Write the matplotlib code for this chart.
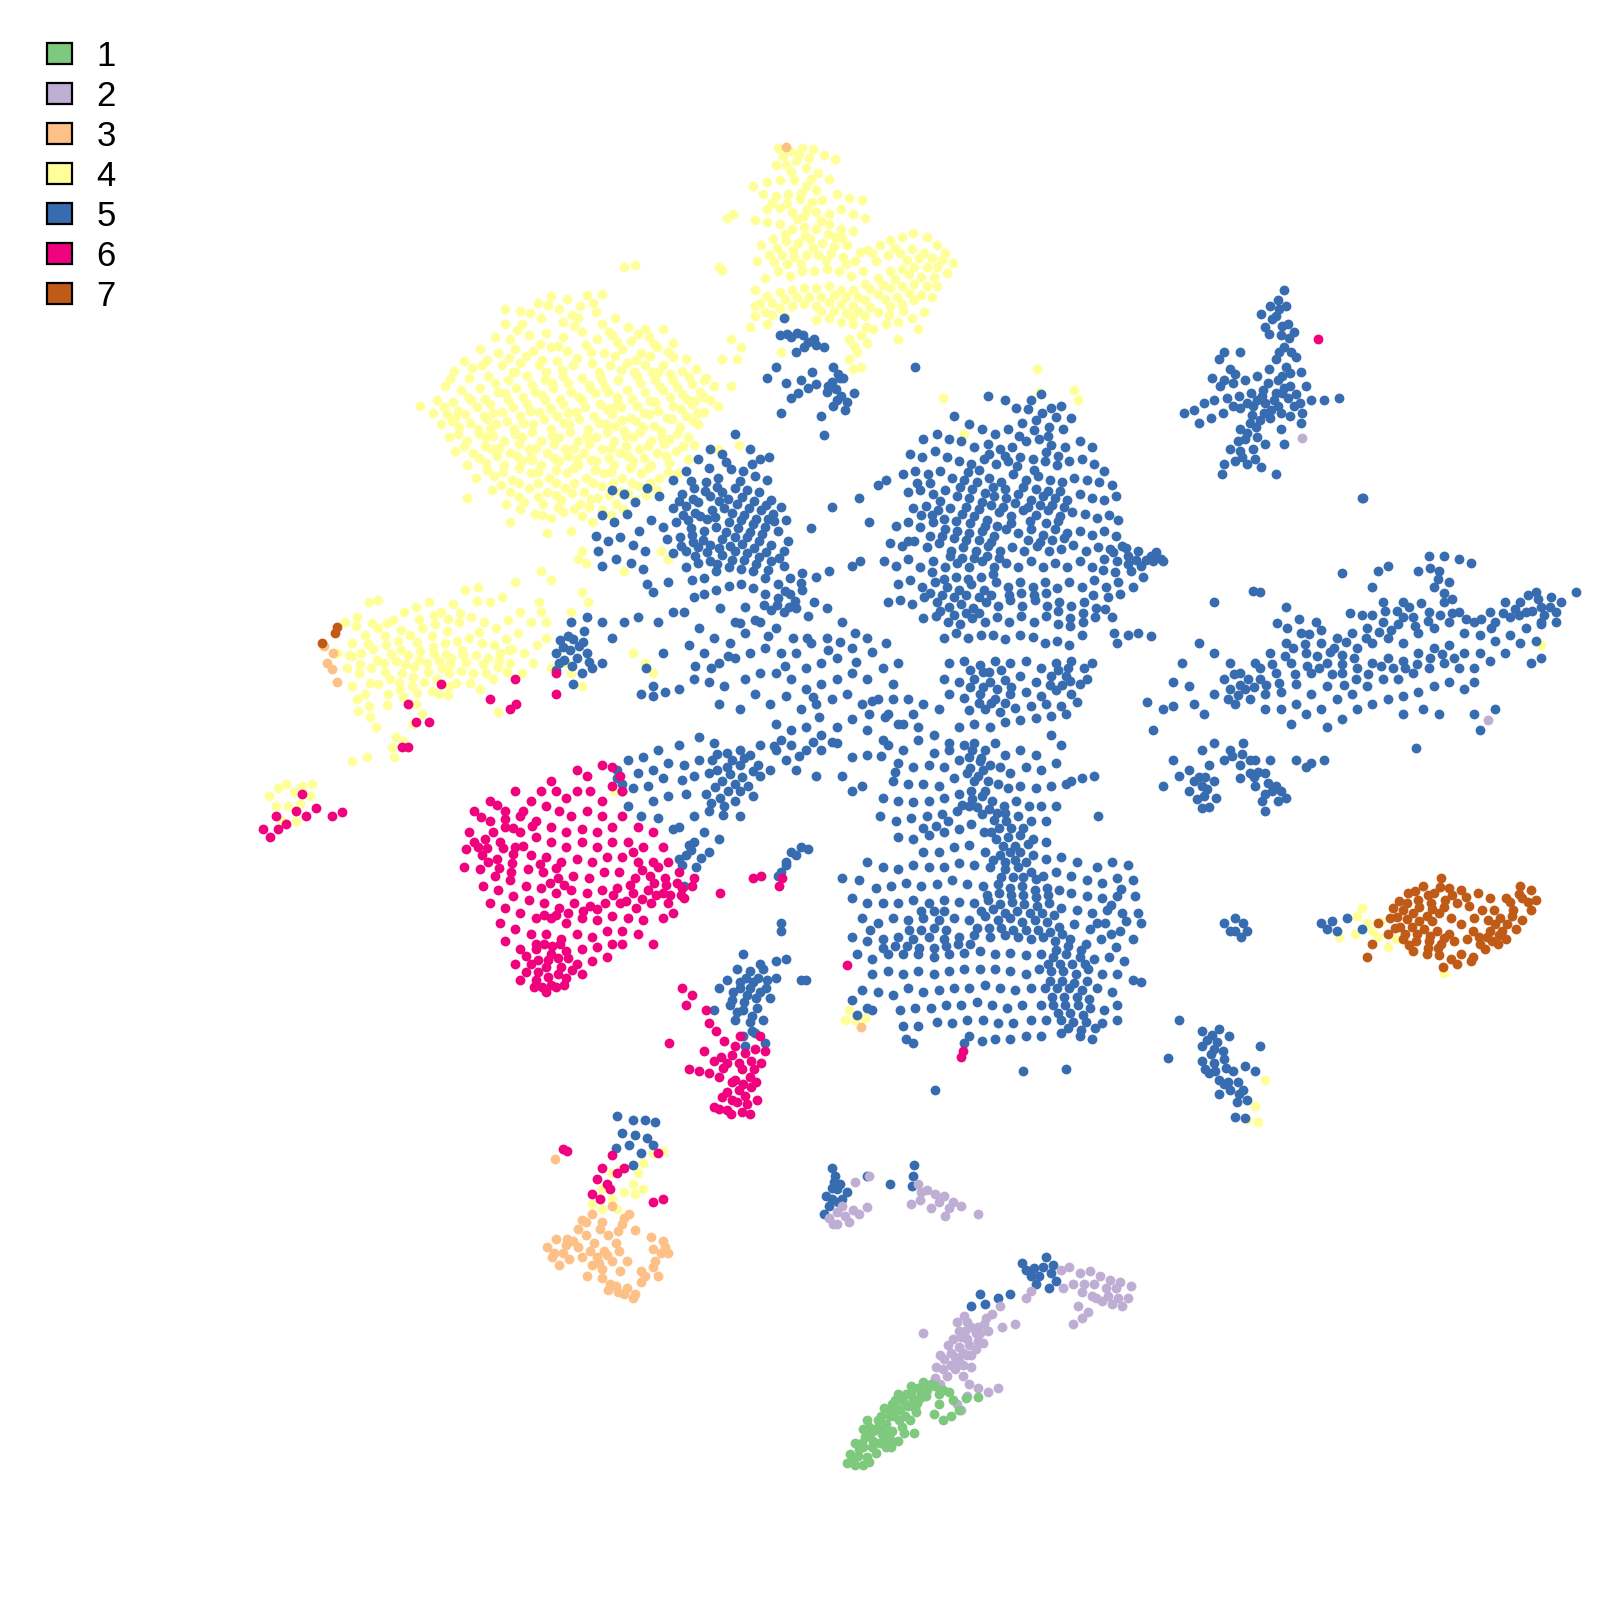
import numpy as np
import matplotlib
matplotlib.use("Agg")
import matplotlib.pyplot as plt
from matplotlib.patches import Patch

plt.rcParams['font.family'] = ['Liberation Sans', 'DejaVu Sans']

labels = ["1", "2", "3", "4", "5", "6", "7"]
colors = ["#7FC97F", "#BEAED4", "#FDC086", "#FFFF99", "#386CB0", "#F0027F", "#BF5B17"]

# cluster values, flat x,y,x,y...
c1 = [830,1434,838,1436,846,1436,852,1433,833,1425,842,1420,850,1428,858,1424,868,1418,838,1414,848,1408,856,1412,
      864,1405,872,1410,880,1412,852,1398,860,1392,868,1396,876,1388,884,1398,892,1392,866,1380,874,1376,882,1382,
      890,1378,898,1384,880,1366,888,1366,895,1372,903,1366,893,1358,900,1360,908,1362,916,1358,924,1362,930,1364,
      905,1354,912,1356,886,1404,873,1418,862,1414,897,1380,920,1376,934,1372,947,1370,958,1369,915,1386,924,1392,
      932,1388,940,1382,902,1370,872,1388,856,1402,846,1418,836,1428,896,1404,
      836,1431,841,1427,845,1414,853,1404,859,1399,863,1388,871,1382,877,1372,885,1373,893,1366,899,1375,881,1392,874,1402,866,1410,
      855,1418,878,1380,887,1388,869,1404,907,1368,920,1366,862,1400,850,1392,846,1400]
c2 = [917,1340,925,1332,932,1326,940,1320,948,1312,956,1306,964,1298,972,1288,980,1280,916,1350,924,1342,932,1338,
      940,1334,948,1328,956,1322,963,1316,938,1296,946,1304,934,1312,945,1290,952,1300,968,1304,982,1300,995,1298,
      952,1340,944,1348,950,1356,958,1360,968,1364,978,1360,938,1376,942,1382,948,1368,1005,1272,1010,1265,1040,1245,
      1048,1242,1058,1248,1068,1246,1078,1250,1088,1254,1098,1256,1108,1260,1105,1272,1100,1280,1090,1278,1080,1275,
      1070,1270,1060,1266,1052,1258,1042,1262,1056,1280,1060,1292,1052,1298,1066,1286,1074,1272,1084,1262,820,1188,
      828,1192,836,1186,820,1200,812,1194,850,1183,842,1190,852,1152,838,1158,900,1160,908,1166,916,1170,925,1172,
      934,1178,942,1182,958,1190,893,1180,902,1176,912,1184,926,1192,1276,429,1458,706,905,1306,
      921,1328,929,1318,936,1330,942,1310,950,1318,958,1314,944,1326,936,1342,928,1348,921,1356,944,1338,952,1328,960,1306,
      948,1296,940,1304,966,1292,958,1300,1062,1258,1072,1258,1094,1262,1086,1270,1096,1272,825,1182,832,1198,816,1200,903,1168,920,1178,930,1184]
c3 = [536,1222,545,1214,552,1228,548,1240,558,1234,566,1222,574,1210,582,1218,592,1226,600,1236,590,1244,580,1240,
      570,1232,575,1250,590,1252,604,1260,612,1268,620,1272,596,1264,608,1246,628,1246,640,1224,650,1216,655,1228,
      642,1236,645,1250,638,1212,570,1196,580,1190,590,1198,610,1200,616,1190,622,1205,604,1218,596,1210,600,1182,
      770,144,544,1136,844,1006,320,650,326,640,318,633,330,668,325,656,556,1214,543,1228,
      541,1232,555,1220,562,1216,585,1232,578,1226,587,1238,595,1230,598,1258,606,1266,614,1262,622,1268,640,1242,648,1228,
      652,1222,566,1204,574,1198,588,1204,612,1194,606,1206,628,1256,632,1250,614,1236,607,1226]
c4_main = [540,290,556,293,575,289,590,288,568,300,548,303,527,297,510,305,584,306,603,312,495,318,512,318,530,312,552,316,566,312,590,318,615,320,632,322,
      485,330,500,332,518,328,535,326,552,330,570,325,585,332,600,328,618,334,636,330,650,322,660,336,
      470,342,488,346,505,342,522,344,540,340,556,344,574,338,592,346,610,342,628,346,644,340,660,350,672,352,
      455,354,472,358,492,358,510,356,528,358,546,354,562,358,580,356,598,358,614,356,632,358,650,358,668,364,682,362,
      445,364,460,370,478,368,498,372,516,368,534,372,552,368,570,370,588,368,606,372,624,368,642,372,660,372,678,376,690,372,
      436,378,452,382,470,380,488,384,506,380,524,384,542,380,560,384,578,380,596,384,614,382,632,384,650,382,668,386,686,384,
      428,392,444,394,462,392,480,396,498,392,516,396,534,392,552,396,570,392,588,396,606,394,624,398,642,394,660,398,678,396,696,392,
      424,405,438,406,456,406,474,408,492,404,510,408,528,404,546,408,564,404,582,408,600,406,618,410,636,406,654,410,672,408,690,404,704,398,
      432,416,450,418,468,420,486,416,504,420,522,416,540,420,558,416,576,420,594,416,612,422,630,418,648,422,666,418,684,416,
      440,428,458,432,476,428,494,432,512,428,530,432,548,428,566,432,584,428,602,432,620,428,638,432,656,430,674,428,
      446,442,464,444,482,440,500,444,518,440,536,444,554,440,572,444,590,440,608,444,626,440,644,444,662,442,680,436,
      458,456,476,454,494,456,512,452,530,456,548,452,566,456,584,452,602,456,620,452,638,456,656,454,674,450,
      466,468,484,466,502,470,520,464,538,468,556,464,574,468,592,464,610,468,628,464,646,468,664,464,
      482,480,500,482,518,478,536,482,554,478,572,482,590,476,608,482,626,476,644,480,
      458,488,496,494,514,492,532,494,550,490,568,494,586,488,604,494,622,490,
      524,504,540,508,552,502,570,506,590,500,500,512,536,522,560,520,580,512,
      412,398,446,410,505,365,535,365,590,372,645,365,600,400,540,400,480,420,520,448,565,450,610,412,
      612,262,622,260,705,262,712,214,716,332,726,340,708,352,722,352,692,370,700,378,716,378,704,440,724,436,
      570,540,574,552,566,548,530,560,540,568,528,590,576,590,570,580,560,600,535,610,612,560,648,540,655,548]
c4_main2 = [495,303,519,307,537,299,561,309,581,297,597,325,625,327,641,337,507,323,529,337,547,339,563,319,579,345,605,335,623,353,637,349,655,345,
      477,353,499,351,515,349,531,353,551,363,565,351,587,365,603,349,621,365,639,365,657,367,675,369,463,361,485,375,503,365,521,377,541,375,
      557,375,577,377,593,379,609,363,627,375,647,379,663,379,681,393,441,371,459,389,475,391,495,385,513,389,531,387,549,391,567,389,583,385,
      605,389,619,391,637,393,657,389,673,391,689,389,435,399,449,403,467,399,483,405,503,399,519,403,539,401,557,405,573,399,595,401,609,399,
      631,405,645,403,667,401,683,405,443,413,461,415,477,411,497,413,513,415,533,411,553,415,567,411,587,415,603,417,623,413,641,417,659,411,
      679,413,449,425,469,425,483,427,505,425,521,423,541,427,559,423,575,427,595,423,613,427,627,423,649,429,663,425,455,437,475,437,489,439,
      509,435,525,439,543,435,563,439,577,435,599,439,613,437,635,437,651,435,669,437,469,449,487,447,507,447,521,451,543,449,557,447,579,451,
      597,449,615,447,631,449,653,447,477,461,493,463,509,459,527,463,545,461,563,459,583,461,599,463,617,459,635,459,655,463,491,475,509,473,
      527,473,545,473,563,473,581,473,601,473,619,473,637,473,509,487,527,487,545,485,561,483,579,489,597,485,615,483,633,485,510,499,531,505,
      547,497,563,499,577,497,599,505,611,499]
c4_top = [762,145,774,148,786,145,797,146,808,152,818,156,780,158,770,162,760,162,790,165,802,170,812,175,752,178,
      764,176,778,176,790,182,800,186,738,182,748,190,760,192,772,190,784,195,796,198,806,196,820,190,832,194,845,196,
      752,205,764,204,776,208,788,212,800,208,812,210,824,205,836,210,848,214,740,216,752,218,764,220,776,224,788,222,
      800,224,812,220,824,224,836,226,758,234,770,236,782,238,794,234,806,238,818,232,830,240,746,240,742,256,754,250,
      766,250,778,252,790,250,802,250,814,248,826,252,838,256,850,245,862,240,872,235,884,232,895,228,908,232,918,240,
      926,248,934,258,928,268,918,262,906,248,894,244,882,248,870,250,858,256,846,266,834,270,822,266,810,264,798,266,
      786,266,774,270,762,266,750,272,740,284,752,290,764,286,776,284,788,282,800,282,812,280,824,284,836,284,848,278,
      860,272,872,266,884,264,896,262,908,262,918,280,908,280,896,278,884,280,872,282,860,288,848,294,836,300,824,298,
      812,296,800,300,788,298,776,300,764,302,750,306,740,310,752,318,800,314,812,312,824,316,836,318,848,310,860,306,
      872,300,884,298,896,294,906,306,894,312,880,316,868,318,856,322,844,328,832,332,840,345,832,352,844,360,836,362,
      900,322,880,332,850,336,740,300,735,320,718,210,708,265,765,345,790,338,1016,362,1053,382,1056,392,1018,384,924,390,945,425,
      767,153,783,151,793,155,775,169,795,175,785,189,757,199,771,199,791,205,805,217,781,215,769,229,789,231,811,229,825,233,
      761,243,777,245,797,243,817,241,759,257,771,259,785,259,809,255,829,259,843,247,855,248,877,243,889,255,901,253,913,253,
      923,255,915,271,903,271,891,269,877,273,865,279,853,283,841,291,829,291,817,289,805,291,793,291,781,291,769,293,757,297,
      745,297,757,309,769,311,805,305,817,305,829,307,841,305,853,301,867,293,879,291,891,287,903,289,913,291,835,311,
      871,309,885,305,849,320,837,339]
c4_misc = [545,640,555,650,560,660,570,672,540,655,620,640,632,650,640,660,338,610,350,605,362,590,370,588,345,630,358,622,370,615,385,608,396,600,
      408,595,420,590,432,600,444,592,456,578,468,575,480,590,492,585,505,570,330,640,342,642,354,640,366,636,378,632,390,628,402,622,414,615,426,612,
      438,618,450,610,462,605,474,610,486,615,498,608,510,600,340,655,352,660,364,655,376,650,388,648,400,642,412,638,424,634,436,630,448,628,460,625,
      472,630,484,632,496,626,508,620,520,610,530,600,345,672,358,680,370,670,382,665,394,660,406,654,418,650,430,648,442,645,454,642,466,642,478,645,
      490,640,502,636,514,640,526,632,350,685,362,692,380,680,392,676,404,672,416,668,428,665,440,660,452,658,464,660,476,660,488,654,500,650,512,660,
      522,650,535,625,505,690,488,698,470,675,430,680,440,672,408,690,414,700,405,710,388,722,384,732,386,742,395,726,368,712,345,746,360,742,
      264,780,272,772,280,768,288,776,296,770,304,780,270,790,282,790,294,788,306,768,276,805,290,805,1240,1058,1230,1084,1233,1100,1222,1098,1415,954,
      1510,632,1340,905,1352,904,1345,912,1330,898,1335,890,1328,915,1360,928,1368,920,1350,918,1312,918,600,1150,610,1145,620,1160,630,1140,640,1130,
      650,1128,625,1150,590,1165,600,1175,612,1168,622,1170,630,1165,580,1180,590,1185,605,1185,828,1000,838,1000,848,998,832,990,875,975,602,775,
      349,613,365,611,379,611,393,617,411,607,425,603,439,607,451,601,467,589,345,643,361,631,377,623,393,637,409,629,423,623,437,641,453,637,469,619,
      353,651,369,647,383,641,397,651,411,647,425,641,441,651,457,649,473,651,489,647,499,637,363,669,377,659,391,669,405,663,419,659,433,655,447,669,
      461,669,483,665,497,659,379,691,395,683,409,679,423,677,439,681,363,703,351,697]
c5_a = [600,480,612,484,622,492,634,478,646,486,660,470,672,462,684,450,696,440,708,445,720,425,735,440,745,450,754,448,
      668,484,680,478,692,472,704,468,716,460,728,462,740,466,752,470,660,498,672,496,684,492,696,486,708,482,720,478,732,480,744,482,756,490,
      590,505,602,512,614,504,626,520,638,510,650,516,662,512,674,510,686,506,698,500,710,498,722,494,734,498,746,500,758,504,770,510,
      584,525,596,530,608,526,620,534,632,540,654,528,666,526,678,524,690,520,702,516,714,512,726,510,738,514,750,516,762,520,772,530,
      604,548,618,552,630,558,660,542,672,540,684,536,696,534,708,528,720,526,732,526,744,530,756,534,768,540,
      586,540,590,555,634,572,672,556,684,552,696,550,708,544,720,540,732,542,744,546,756,550,768,555,
      678,568,690,566,702,560,714,556,726,558,738,560,750,566,762,572,774,566,786,562,
      690,582,702,578,714,574,726,572,738,576,750,582,762,586,774,582,786,578,798,590,810,596,800,565,812,560,
      756,598,768,600,780,596,792,604,740,608,720,610,706,596,730,595,
      677,471,695,459,711,453,725,471,737,455,665,491,679,489,691,481,703,477,713,489,727,487,739,491,751,495,669,505,681,503,693,509,705,491,
      717,503,729,505,741,509,753,509,765,497,677,517,689,529,701,507,711,521,723,517,735,521,747,523,759,511,667,535,679,531,693,541,705,537,
      715,535,727,533,739,537,751,541,763,547,681,545,703,553,717,549,729,549,741,553,753,559,769,579,779,589,785,571,773,595,761,593,749,593]
c5_b = [768,312,764,328,775,330,787,328,798,332,788,340,780,345,760,360,770,375,752,370,808,340,816,360,826,370,815,374,
      800,376,810,384,820,392,830,394,792,380,782,385,765,405,775,390,805,408,828,402,808,426,837,385,897,360,796,365,785,372,
      771,327,781,326,792,335,800,338,821,367,819,381,811,378,824,388,816,398,823,370]
c5_c = [1258,284,1252,294,1245,300,1236,308,1260,300,1250,310,1240,320,1262,318,1255,328,1268,325,1258,340,1250,352,1260,360,
      1270,350,1275,365,1200,345,1195,352,1205,362,1215,345,1188,370,1196,378,1208,375,1220,372,1232,368,1244,362,1252,372,1264,378,1280,378,
      1180,395,1170,402,1160,405,1190,392,1202,390,1214,388,1226,385,1238,382,1250,385,1262,390,1274,395,1285,392,1298,392,1312,390,
      1175,415,1187,410,1199,405,1215,400,1228,398,1240,395,1252,398,1264,408,1276,405,1235,412,1225,415,1215,420,1245,410,
      1255,420,1220,430,1232,428,1205,440,1215,442,1228,440,1240,435,1200,455,1210,452,1222,455,1236,458,1250,465,1198,465,1275,415,1258,435,1336,488,
      1253,303,1247,313,1256,319,1244,327,1263,331,1253,345,1265,345,1243,375,1237,388,1249,392,1256,385,1246,402,1239,405,1255,405,1232,392,
      1222,395,1227,407,1213,432,1222,424,1231,418,1217,448,1230,450,1208,398,1200,372,1210,367,1258,380,1270,386,1268,398,1256,368,1264,366]
c5_d = [968,388,985,392,996,400,1010,392,1020,386,1030,400,1040,398,1050,410,935,408,950,416,962,420,975,425,988,420,1002,415,1015,412,1028,418,1042,420,
      905,430,918,425,930,430,942,432,955,438,968,435,980,440,992,438,1005,432,1018,430,1030,436,1044,438,1058,432,1070,438,
      892,445,904,448,916,442,928,448,940,452,952,455,964,450,976,455,988,452,1000,448,1012,450,1024,452,1036,456,1048,452,1060,450,1072,455,1082,462,
      885,465,897,462,909,465,921,462,933,468,945,470,957,472,969,468,981,472,993,465,1005,470,1017,466,1029,470,1041,472,1053,468,1065,470,1077,472,1090,475,
      890,482,902,480,914,484,926,480,938,486,950,488,962,492,974,486,986,488,998,484,1010,490,1022,486,1034,488,1046,490,1058,484,1070,488,1082,490,1094,486,
      895,498,907,496,919,500,931,498,943,504,955,506,967,510,979,502,991,506,1003,500,1015,505,1027,500,1039,506,1051,502,1063,504,1075,508,1087,505,1096,510,
      878,515,890,512,902,516,914,512,926,518,938,520,950,522,962,520,974,525,986,518,998,522,1010,518,1022,524,1034,518,1046,522,1058,520,1070,524,1082,520,1094,525,
      872,532,884,535,896,530,908,536,920,532,932,540,944,536,956,540,968,535,980,540,992,536,1004,540,1016,535,1028,540,1040,538,1052,534,1064,540,1076,536,1088,538,1100,535,
      866,550,878,555,890,548,902,556,914,550,926,556,938,552,950,556,962,550,974,556,986,552,998,556,1010,550,1022,556,1034,552,1046,556,1058,550,1070,556,1082,548,1095,550,1105,545,1115,540,1128,545,1138,548,
      880,572,892,568,904,575,916,570,928,575,940,578,952,572,964,578,976,570,988,575,1000,570,1012,575,1024,570,1036,576,1048,570,1060,575,1072,568,1084,575,1096,570,1108,560,1118,555,1130,550,
      870,590,882,588,894,592,906,585,918,590,930,595,942,592,954,596,966,590,978,594,990,588,1002,594,1014,588,1026,594,1038,590,1050,594,1062,590,1074,596,1086,585,1098,582,1110,575,
      905,606,917,604,929,610,941,612,953,606,965,610,977,605,989,610,1001,604,1013,610,1025,604,1037,612,1049,606,1061,610,1073,605,
      925,625,937,620,949,625,961,622,973,622,985,626,1000,622,1012,624,1024,630,1036,628,1048,632,1060,622,1095,630,1105,622,1115,620,1128,623,
      1132,545,1140,550,1120,565,1090,605,1092,620,868,470,860,475,842,488,852,512,815,497,795,517,843,550,835,555,890,530]
c5_d2 = [1007,401,1021,405,1035,409,1013,421,999,427,1027,427,969,445,985,447,997,457,1013,461,1025,443,1037,447,949,463,959,461,973,477,985,479,1003,477,
      1015,479,1027,481,1039,481,941,477,953,479,965,483,947,497,959,499,971,495,983,497,995,493,1007,497,1019,495,1031,495,1043,497,951,513,965,515,977,515,
      991,513,1009,511,1025,513,1037,511,911,473,921,491,903,505,913,505,925,509,937,511,899,473,911,525,923,525,935,527,947,529,959,529,971,531,1031,529,
      1043,527,1019,531,1007,529,911,581,923,583,935,585,947,583,959,585,971,583,921,599,935,603,947,601,959,601,925,567,937,565,949,567,961,565,973,563,
      913,561,931,545,943,547,955,547,967,545,979,547,1091,541,1103,537,1113,549,1123,549,1133,541,1081,559,1093,561,1105,553,1071,583,1083,597,1061,601,
      1049,613,1037,599,1025,581,1013,583,1001,581,989,583]
c5_e = [930,650,945,648,960,652,975,648,990,650,1005,648,1020,655,1035,650,1050,648,1062,655,925,665,940,668,955,665,970,668,985,666,1000,662,1015,668,1030,662,1045,662,1058,670,
      930,680,945,684,960,680,975,685,990,680,1005,678,1020,682,1035,676,1050,680,1065,665,950,696,965,695,980,698,995,694,1010,692,1025,690,1040,692,1055,688,1070,650,
      940,712,955,710,970,712,985,708,1000,706,1015,704,1030,702,1045,700,905,690,920,695,890,685,875,685,855,687,852,700,870,700,885,710,900,712,915,720,930,728,
      951,657,963,659,969,659,981,657,951,673,963,673,977,675,991,673,1037,657,1047,655,1041,671,1029,671,959,689,971,689,985,689,1049,667]
c5_f = [870,730,885,735,900,725,915,738,930,735,945,730,955,728,965,735,975,728,985,740,1000,735,1015,740,1030,720,1040,730,
      880,748,895,752,910,750,925,752,940,745,950,742,960,746,970,750,980,752,990,758,1005,752,1020,755,1035,748,1050,765,1060,762,1072,760,
      875,765,890,768,905,768,920,770,935,762,948,758,958,760,968,765,978,768,988,772,1000,770,1015,772,1030,770,1045,768,
      865,782,880,785,895,786,910,785,925,782,940,778,952,775,962,780,972,785,984,790,996,785,1008,790,1020,790,1035,790,
      862,800,878,805,893,802,908,800,923,798,938,795,950,790,962,798,974,804,986,805,998,800,1010,805,1025,805,1076,800,1118,962,
      880,820,895,822,910,818,925,815,940,812,952,808,964,815,976,822,988,820,1000,818,1012,822,1025,825,
      953,735,961,743,951,753,963,755,955,765,965,775,953,783,943,789,957,791,969,793,977,797,985,797,979,811,991,811,1003,811,971,815,983,829,995,829,
      1007,827,917,809,905,811,929,805]
c5_g = [905,835,920,835,935,830,950,828,965,835,980,838,990,835,1000,835,1012,838,1025,842,1040,840,1055,845,1075,850,1090,845,1105,848,
      850,845,865,850,880,852,895,848,910,850,925,850,940,846,955,848,970,850,985,852,998,850,1010,855,1022,858,1035,855,1050,858,1065,862,1080,865,1095,860,1110,862,
      825,860,842,862,858,870,873,868,888,865,903,868,918,866,933,862,948,866,963,868,978,866,990,870,1002,868,1014,872,1026,870,1038,872,1050,875,1065,878,1080,880,1095,878,1112,878,
      835,880,850,885,865,885,880,885,895,882,910,885,925,882,940,884,955,885,968,882,980,886,992,884,1004,886,1016,888,1028,885,1040,890,1055,892,1070,895,1085,892,1100,895,1115,895,
      845,900,860,905,875,900,890,902,905,900,920,902,935,900,950,902,965,898,978,902,990,900,1002,904,1014,902,1026,904,1038,908,1053,906,1068,910,1083,905,1098,912,1118,905,
      835,918,850,922,865,920,880,918,895,920,910,918,925,920,940,918,955,916,970,918,985,916,998,918,1010,920,1022,918,1034,922,1049,920,1064,925,1079,920,1094,928,1110,920,
      840,935,855,940,870,935,885,935,900,935,915,938,930,935,945,934,960,932,975,935,990,934,1005,936,1020,935,1032,938,1045,935,1058,938,1072,940,1087,938,1102,942,
      855,955,870,952,885,955,900,952,915,955,930,952,945,950,960,950,975,950,990,952,1005,955,1018,950,1030,952,1042,952,1054,955,1066,950,1080,955,1095,955,1110,960,
      860,972,875,975,890,968,905,972,920,970,935,968,950,968,965,965,980,968,995,970,1010,968,1024,968,1036,968,1048,968,1060,970,1075,968,1090,972,
      882,990,897,988,912,988,927,985,942,985,957,982,972,985,987,988,1002,985,1020,985,1032,985,1044,985,1056,985,1068,988,1082,990,1095,985,
      885,1005,900,1005,918,1002,933,1003,948,1000,963,1000,978,1003,993,1003,1010,1000,1025,1000,1040,1000,1052,1002,1064,1002,1080,1003,1095,1000,
      888,1018,895,1022,950,1015,962,1020,975,1018,990,1018,1005,1015,1020,1015,1040,1012,1058,1015,1070,1018,945,1022,1003,1050,1045,1048,916,1068,
      973,843,985,845,995,843,1005,845,981,859,993,859,1003,859,1015,861,967,877,979,875,991,877,1003,877,1015,879,1027,877,961,893,973,891,985,895,997,893,
      1009,895,1021,895,1033,897,957,909,969,909,981,909,993,911,1005,911,1017,911,1029,913,1041,915,1035,931,1047,927,1059,931,1027,945,1039,945,1051,945,
      1063,945,1029,961,1041,961,1053,963,1065,961,1031,977,1043,977,1055,977,1067,979,1037,993,1049,993,1061,995,1047,1007,1059,1009,1073,1007,
      925,893,915,893,903,893,927,911,915,909,903,911,891,911,951,925,939,925,927,927,915,929,901,929,889,927,877,927,865,929,853,911,1089,915,1103,903,
      1099,871,1089,887,1075,905]
c5_h = [640,580,655,570,670,600,685,615,700,625,715,630,730,620,745,610,760,615,780,640,795,630,810,625,825,610,838,620,850,625,868,630,
      645,610,660,600,675,632,690,640,705,650,720,645,735,640,750,635,765,640,790,655,805,650,820,645,835,635,
      640,682,652,678,665,675,680,665,695,668,710,672,730,665,745,660,760,660,775,665,790,675,805,670,820,665,835,660,850,665,865,655,880,650,
      705,690,725,695,740,680,755,690,770,682,785,695,800,690,815,685,830,680,845,690,860,685,875,670,
      760,710,775,715,790,712,805,720,820,712,835,705,850,715,865,725,880,710,895,700,
      745,730,760,735,775,730,790,735,805,735,820,728,835,742,850,740,780,755,800,760,825,760,835,775,845,770,
      770,745,755,755,743,750,572,618,562,626,552,634,545,640,560,610,575,605,590,610,600,625,612,610,625,605,575,640,565,645,580,655,548,650,
      628,680,640,672,633,655,570,660,590,650,562,670,650,640,680,585,765,912,790,960,785,830,775,835,770,845,765,855,
      557,623,567,633,549,627,559,637,553,647,571,629,545,657,561,653,577,649,759,731,765,725,783,741,797,727,815,727,803,703,797,683,867,703,863,741,
      877,757,791,625,777,625,753,623,725,611,713,643,697,655,681,653,769,653,811,637,823,629,839,649,855,639]
c5_i = [615,745,630,742,645,735,665,730,685,722,700,728,712,738,725,735,735,740,625,758,640,755,655,748,670,750,685,745,698,745,712,752,725,750,738,756,745,760,
      605,762,620,772,635,770,650,762,668,764,680,760,695,758,708,765,720,768,733,770,640,785,655,780,672,778,692,778,706,782,720,785,738,780,
      615,790,628,800,645,802,665,810,680,800,695,795,710,790,725,800,690,815,680,825,672,838,682,850,695,835,705,822,668,848,660,812,610,775,
      703,739,717,745,729,743,703,755,715,759,727,761,701,771,713,775,725,775,697,787,709,799,677,833,687,841,675,828,665,842,605,755,610,768]
c5_j = [1124,688,1130,715,1140,695,1150,692,1158,650,1150,668,1165,672,1170,690,1180,700,1190,590,1205,650,1190,640,1175,630,
      1200,665,1215,660,1230,650,1245,640,1260,630,1275,620,1290,610,1235,580,1260,595,1315,562,1345,575,1355,590,1375,590,1390,560,1400,545,1415,545,1430,548,1442,552,
      1190,680,1205,675,1220,675,1235,665,1250,660,1265,650,1280,640,1295,630,1310,625,1325,620,1340,615,1355,610,1370,612,1385,605,1400,600,1415,590,1430,600,1445,610,1460,600,1475,590,1490,590,1505,580,1520,585,1530,590,1544,580,
      1210,690,1225,685,1240,680,1255,678,1270,670,1285,660,1300,650,1315,642,1330,635,1345,630,1360,625,1375,630,1390,620,1405,615,1420,610,1435,620,1450,622,1465,610,1480,605,1495,600,1510,595,1525,600,
      1240,695,1255,695,1270,690,1285,680,1300,672,1315,660,1330,655,1345,650,1360,645,1375,648,1390,640,1405,635,1420,632,1435,640,1450,640,1465,628,1480,622,1495,615,1510,612,1525,610,
      1265,710,1280,700,1295,695,1310,685,1325,680,1340,672,1355,665,1370,665,1385,660,1400,655,1415,650,1430,655,1445,655,1460,648,1475,640,1490,630,1505,628,
      1300,712,1315,705,1330,695,1345,690,1360,685,1375,682,1390,678,1405,672,1420,668,1435,675,1500,650,1510,645,1375,700,1395,695,1410,700,1445,700,1450,715,1465,695,1445,668,1405,575,1410,560,1420,570,1350,560,1360,555,1228,579,1510,610,
      1209,661,1215,671,1203,685,1213,681,1251,611,1261,615,1273,607,1283,621,1295,617,1307,635,1319,629,1267,635,1279,631,1291,643,1303,639,1315,651,1327,645,
      1339,625,1351,619,1363,617,1375,605,1387,613,1399,609,1411,603,1423,601,1437,607,1489,603,1501,599,1513,603,1519,595,1507,587,1497,583,1485,597,1473,601,
      1461,615,1451,607,1401,557,1409,567,1415,581,1423,587,1345,603,1357,599,1369,599,1381,595,1393,591,1323,601,1335,603,1259,643,1247,651,1235,655,1223,665,
      1269,661,1281,653,1293,655,1305,661,1317,671,1329,665,1341,661,1353,653,1365,655,1377,655,1389,651,1401,645,1413,641,1425,645,1241,671,1253,669,1229,673]
c5_k = [1140,770,1150,745,1165,755,1178,735,1190,728,1205,735,1218,728,1230,745,1245,745,1270,745,1285,748,1298,745,1280,752,
      1155,760,1170,765,1185,750,1200,745,1215,750,1225,758,1240,758,1250,770,1165,775,1178,770,1190,765,1180,780,1192,782,1178,792,1215,762,1230,770,1240,778,1252,785,1240,795,1260,782,1388,733,
      1207,741,1217,739,1225,745,1233,757,1243,767,1229,761,1237,785,1247,775,1255,775,1175,761,1183,773,1173,783,1185,791,1181,761]
c5_small = [1200,905,1210,900,1218,905,1210,912,1216,918,1205,912,1222,912,1295,905,1305,903,1310,912,1320,900,1335,910,1300,910,
      1155,1000,1178,1010,1188,1014,1195,1008,1178,1025,1190,1028,1204,1015,1235,1025,1145,1037,1178,1040,1190,1042,1200,1038,1185,1052,1195,1058,1208,1050,
      1220,1045,1230,1050,1195,1072,1205,1068,1218,1068,1212,1080,1222,1078,1210,1095,1220,1096,1200,1062,
      728,935,745,945,760,942,770,940,722,950,735,952,748,950,712,960,725,962,738,962,752,960,705,968,718,972,732,975,745,972,760,958,700,990,715,985,728,990,742,988,
      755,978,720,1000,735,1002,748,1000,728,1015,740,1012,730,1025,750,1022,785,960,
      605,1094,620,1098,632,1098,642,1100,610,1110,622,1112,634,1115,640,1122,604,1125,616,1122,628,1130,620,1142,
      835,980,845,970,850,988,840,995,855,990,
      815,1145,818,1152,820,1165,815,1175,825,1175,812,1182,808,1190,830,1168,850,1152,872,1160,896,1142,895,1152,894,1162,
      1025,1232,1030,1248,1018,1250,1005,1245,1035,1255,1015,1258,990,1268,978,1272,960,1268,965,1278,952,1280,1002,1238,1028,1262,
      770,848,780,838,792,832,762,858,670,868,765,905,1335,488,
      1183,1019,1187,1033,1193,1021,1199,1030,1181,1048,1191,1050,1201,1047,1203,1060,1213,1060,1214,1072,725,968,735,968,741,978,729,982,737,996,722,992,
      731,958,743,958,717,980,751,968,737,1010,817,1158,823,1160,815,1164,809,1172,821,1178,1010,1250,1022,1242,1032,1240,1013,1243]
c6_main = [590,750,600,752,565,755,575,760,608,760,600,770,610,775,540,765,530,775,545,775,555,782,565,775,578,775,590,785,505,775,520,785,535,790,548,795,
      560,800,575,795,590,800,480,785,495,795,510,800,525,805,540,810,555,815,570,812,585,815,600,810,610,800,625,810,640,815,465,795,480,805,495,810,510,815,
      525,820,540,825,555,830,570,825,585,830,600,825,615,825,630,830,650,830,460,815,475,822,490,825,505,830,520,838,535,840,550,845,565,842,580,845,595,840,610,840,625,845,640,845,655,845,
      457,832,472,838,487,842,502,846,517,852,532,855,547,860,562,858,577,860,592,855,607,855,622,860,637,858,652,860,665,855,470,852,485,858,500,862,515,868,530,870,545,875,560,872,575,875,590,872,605,870,620,875,635,872,650,875,668,870,
      473,868,488,872,503,878,518,882,533,885,548,890,563,885,578,888,593,885,608,885,623,890,638,885,655,885,670,880,678,868,480,885,495,890,510,895,525,900,540,900,555,905,570,900,585,902,600,898,615,900,630,902,650,900,660,895,
      490,905,505,910,520,915,535,915,550,920,565,915,580,918,595,912,610,912,625,915,640,925,
      495,922,510,930,525,930,540,935,555,932,570,930,585,928,600,925,610,925,505,945,520,945,535,948,550,948,565,945,580,942,595,938,510,960,525,960,540,965,555,958,570,955,535,972,
      455,850,478,845,468,830,620,835,645,850,680,860,
      487,789,495,803,503,811,471,801,483,815,493,831,477,831,465,825,503,837,513,829,513,795,521,809,501,855,489,851,529,847,545,851,539,865,553,867,
      525,925,533,925,541,927,549,925,515,937,527,941,537,941,547,939,557,939,515,953,527,953,537,957,547,955,561,951,523,967,531,967,545,967,553,965,
      629,853,641,865,653,867,663,865,617,867,629,881,643,877,657,877,667,877,601,877,613,883,585,891,571,893,557,895,545,897,533,897]
c6_misc = [668,968,678,975,672,985,692,990,695,1003,702,1010,656,1022,690,1030,710,1020,725,1015,745,1015,
      675,1048,685,1050,695,1052,720,1025,730,1032,740,1028,750,1030,700,1040,712,1042,724,1042,736,1040,746,1042,705,1055,720,1058,735,1055,712,1070,724,1068,736,1065,700,1085,712,1088,722,1080,732,1082,742,1078,708,1075,735,1092,
      738,860,746,858,763,868,766,860,706,875,830,946,944,1030,942,1036,1292,332,
      400,690,420,708,408,708,432,670,480,685,500,695,506,690,545,680,505,665,545,660,394,732,400,732,
      258,812,265,820,272,812,280,808,290,795,300,800,310,792,325,800,335,796,270,800,296,778,
      600,1132,590,1145,585,1155,595,1160,580,1170,605,1150,612,1145,588,1175,598,1165,552,1126,556,1128,650,1175,640,1178,645,1130,
      707,1036,717,1034,727,1048,739,1048,709,1047,717,1060,728,1062,741,1060,717,1078,705,1087,716,1092,727,1090,730,1074]
c7 = [1412,860,1395,868,1405,875,1420,870,1432,872,1448,875,1460,880,1476,880,1490,868,1500,872,1505,882,
      1380,875,1390,882,1402,885,1416,882,1428,885,1440,888,1452,892,1464,892,1480,884,1492,880,1500,892,
      1365,890,1375,892,1385,895,1398,898,1410,895,1422,900,1445,900,1458,902,1470,900,1482,898,1492,902,
      1350,905,1362,900,1372,908,1384,908,1396,910,1408,912,1420,915,1432,906,1444,912,1460,912,1472,912,1486,910,
      1360,915,1375,920,1388,922,1400,922,1412,925,1425,922,1438,920,1450,925,1462,922,1476,920,
      1345,925,1385,932,1398,935,1410,936,1422,940,1432,935,1444,938,1455,930,1468,925,1414,948,1428,945,1442,942,1340,938,
      1387,873,1399,877,1411,869,1423,877,1437,879,1371,883,1379,885,1391,889,1403,891,1415,889,1489,876,1497,884,1483,892,1369,899,1379,901,1391,903,
      1403,903,1367,909,1377,915,1389,915,1401,917,1415,919,1465,906,1477,906,1449,918,1457,918,1469,916,1399,929,1409,929,1381,926]
extra_pts = [330,614,328,620,316,630]

point_sets = [
    (c4_main + c4_main2 + c4_top + c4_misc, colors[3]),
    (c3, colors[2]),
    (c5_a + c5_b + c5_c + c5_d + c5_d2 + c5_e + c5_f + c5_g + c5_h + c5_i + c5_j + c5_k + c5_small, colors[4]),
    (c6_main + c6_misc, colors[5]),
    (c2, colors[1]),
    (c1, colors[0]),
    (c7 + extra_pts, colors[6]),
]

fig = plt.figure(figsize=(16, 16), dpi=100)
ax = fig.add_axes([0, 0, 1, 1])
for vals, col in point_sets:
    arr = np.array(vals).reshape(-1, 2)
    ax.scatter(arr[:, 0], arr[:, 1], s=50, color=col, linewidths=0, zorder=2)
ax.set_xlim(0, 1568)
ax.set_ylim(1568, 0)
ax.axis("off")

handles = [Patch(facecolor=c, edgecolor="black", linewidth=1.6) for c in colors]
ax.legend(handles, labels, loc="upper left", bbox_to_anchor=(0.0295, 0.975), frameon=False,
          fontsize=25, handlelength=0.72, handleheight=0.57, handletextpad=0.70,
          labelspacing=0.2, borderpad=0, borderaxespad=0)

fig.savefig("out.png", dpi=100)
